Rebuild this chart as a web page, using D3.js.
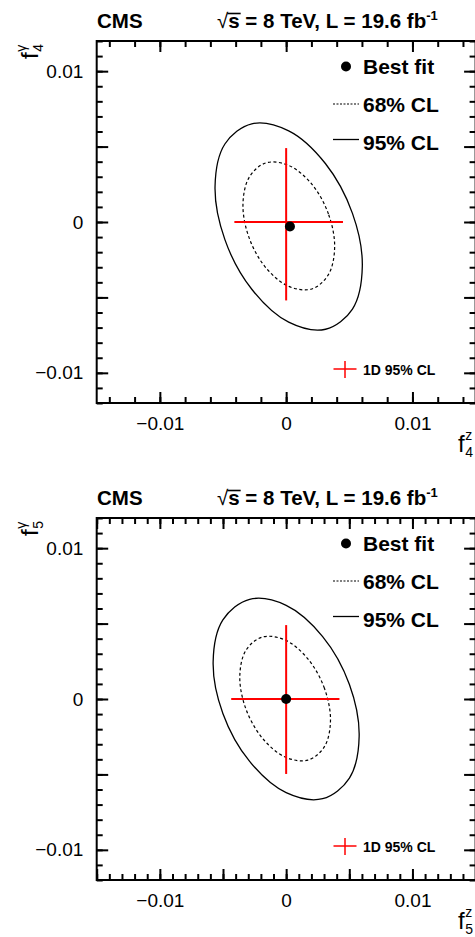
<!DOCTYPE html>
<meta charset="utf-8">
<style>
  body { margin: 0; background: #fff; }
  text { font-family: "Liberation Sans", Arial, sans-serif; fill: #000; }
</style>
<body>
<!-- Load d3.js -->
<script src="https://d3js.org/d3.v7.min.js"></script>
<div id="my_dataviz"></div>
<script>

// Contours (f^z, f^gamma pairs)
var f4Contour95 = [[0.00603,-0.00295],[0.00525,0.00057],[0.00312,0.00386],[0.0002,0.00604],[-0.00272,0.00651],[-0.00485,0.00517],
                   [-0.00563,0.00235],[-0.00485,-0.00117],[-0.00272,-0.00446],[0.0002,-0.00664],[0.00312,-0.00711],[0.00525,-0.00577]];
var f4Contour68 = [[0.00384,-0.00166],[0.00335,0.00053],[0.00203,0.00251],[0.00021,0.00375],[-0.00161,0.00392],[-0.00293,0.00296],
                   [-0.00342,0.00114],[-0.00293,-0.00105],[-0.00161,-0.00303],[0.00021,-0.00427],[0.00203,-0.00444],[0.00335,-0.00348]];
var f5Contour95 = [[0.00578,-0.00247],[0.00501,0.00096],[0.00289,0.00414],[0,0.00621],[-0.00289,0.00661],[-0.00501,0.00524],
                   [-0.00578,0.00247],[-0.00501,-0.00096],[-0.00289,-0.00414],[0,-0.00621],[0.00289,-0.00661],[0.00501,-0.00524]];
var f5Contour68 = [[0.00351,-0.00142],[0.00303,0.00071],[0.00172,0.00266],[-0.00008,0.00391],[-0.00188,0.00411],[-0.00319,0.00322],
                   [-0.00367,0.00148],[-0.00319,-0.00065],[-0.00188,-0.0026],[-0.00008,-0.00385],[0.00172,-0.00405],[0.00303,-0.00316]];

// Best fit points
var f4BestFit = [0.0003, -0.0003];
var f5BestFit = [0, 0];

// 1D 95% CL intervals
var f4CrossX = [-0.0041, 0.0045];
var f4CrossY = [-0.0052, 0.0049];
var f5CrossX = [-0.00435, 0.00422];
var f5CrossY = [-0.00497, 0.0049];

// Axis ticks and labels
var xDomain = [-0.015, 0.015];
var yDomain = [-0.012, 0.012];
var tickLabels = [-0.01, 0, 0.01];
var f4XMajor = [-0.01, 0, 0.01];
var f4XMinor = [-0.014, -0.012, -0.01, -0.008, -0.006, -0.004, -0.002, 0, 0.002, 0.004, 0.006, 0.008, 0.01, 0.012, 0.014];
var f5XMajor = [-0.015, -0.01, -0.005, 0, 0.005, 0.01, 0.015];
var yMajor = [-0.01, -0.005, 0, 0.005, 0.01];
var fineMinor = d3.range(-15, 16).map(function(i) { return i / 1000; });

var legendLabels = ["Best fit", "68% CL", "95% CL"];
var panelNames = ["4", "5"];

// Set the dimensions of the page
var width = 475, height = 937, panelShift = 477;

var svg = d3.select("#my_dataviz")
  .append("svg")
    .attr("width", width)
    .attr("height", height);

var x = d3.scaleLinear().domain(xDomain).range([96.7, 475.6]);
var y = d3.scaleLinear().domain(yDomain).range([403, 41]);

var contour = d3.line()
  .x(function(d) { return x(d[0]); })
  .y(function(d) { return y(d[1]); })
  .curve(d3.curveCatmullRomClosed.alpha(0.5));

function labelFmt(d) {
  for (var i = 0; i < tickLabels.length; i++) {
    if (Math.abs(d - tickLabels[i]) < 1e-9) return d === 0 ? "0" : d3.format(".2f")(d).replace(/0$/, "");
  }
  return "";
}

// one axis layer
function addAxis(g, axis, values, len, labels, transform) {
  var a = g.append("g")
    .attr("transform", transform || null)
    .call(axis.tickValues(values).tickSize(-len).tickPadding(13.4)
      .tickFormat(labels ? labelFmt : function() { return ""; }));
  a.select(".domain").remove();
  a.selectAll("line").attr("stroke", "#000").attr("stroke-width", 2);
  a.selectAll("text").attr("font-size", 19).attr("font-family", null).attr("fill", "#000");
  a.attr("font-family", null);
}

// "f" with stacked super- and subscript, right aligned at the origin
function fSymbol(g, sup, sub) {
  var inner = g.append("g");
  var f = inner.append("text").attr("font-size", 24).text("f");
  var fw = f.node().getComputedTextLength();
  var s1 = inner.append("text").attr("x", fw + 0.5).attr("y", -12).attr("font-size", 14).text(sup);
  var s2 = inner.append("text").attr("x", fw + 0.5).attr("y", 5).attr("font-size", 14).text(sub);
  var w = fw + 0.5 + Math.max(s1.node().getComputedTextLength(), s2.node().getComputedTextLength());
  inner.attr("transform", "translate(" + (-w) + ",0)");
}

function drawPanel(k, c95, c68, best, crossX, crossY, xMajor, xMinor) {
  var g = svg.append("g").attr("transform", "translate(0," + (k * panelShift) + ")");

  // header
  g.append("text").attr("x", 97).attr("y", 28).attr("font-size", 20.5).attr("font-weight", "bold").text("CMS");
  var hdr = g.append("text").attr("x", 217).attr("y", 28).attr("font-size", 20.5).attr("font-weight", "bold");
  hdr.append("tspan").attr("font-weight", "normal").text("\u221A");
  hdr.append("tspan").text("s = 8 TeV, L = 19.6 fb");
  hdr.append("tspan").attr("dy", -8).attr("font-size", 13).text("-1");
  var n = hdr.node();
  var s0 = n.getStartPositionOfChar(1).x, s1 = n.getEndPositionOfChar(1).x;
  g.append("line").attr("x1", s0 - 1).attr("x2", s1 + 1).attr("y1", 13.5).attr("y2", 13.5)
    .attr("stroke", "#000").attr("stroke-width", 1.6);

  // axes: minor then major ticks on all four sides
  var yMinor = fineMinor.filter(function(v) { return v >= yDomain[0] && v <= yDomain[1]; });
  addAxis(g, d3.axisBottom(x), xMinor, 6, false, "translate(0," + y.range()[0] + ")");
  addAxis(g, d3.axisBottom(x), xMajor, 11, true, "translate(0," + y.range()[0] + ")");
  addAxis(g, d3.axisTop(x), xMinor, 6, false, "translate(0," + y.range()[1] + ")");
  addAxis(g, d3.axisTop(x), xMajor, 11, false, "translate(0," + y.range()[1] + ")");
  addAxis(g, d3.axisLeft(y), yMinor, 6, false, "translate(" + x.range()[0] + ",0)");
  addAxis(g, d3.axisLeft(y), yMajor, 11.5, true, "translate(" + x.range()[0] + ",0)");
  addAxis(g, d3.axisRight(y), yMinor, 6, false, "translate(" + x.range()[1] + ",0)");
  addAxis(g, d3.axisRight(y), yMajor, 11.5, false, "translate(" + x.range()[1] + ",0)");

  g.append("rect")
    .attr("x", x.range()[0]).attr("y", y.range()[1])
    .attr("width", x.range()[1] - x.range()[0]).attr("height", y.range()[0] - y.range()[1])
    .attr("fill", "none").attr("stroke", "#000").attr("stroke-width", 2);

  // axis titles
  fSymbol(g.append("g").attr("transform", "translate(38,44) rotate(-90)"), "\u03B3", panelNames[k]);
  fSymbol(g.append("g").attr("transform", "translate(473,452)"), "z", panelNames[k]);

  // contours
  g.append("path").datum(c95).attr("fill", "none").attr("stroke", "#000").attr("stroke-width", 1.3).attr("d", contour);
  g.append("path").datum(c68).attr("fill", "none").attr("stroke", "#000").attr("stroke-width", 1.2)
    .attr("stroke-dasharray", "3,2.5").attr("d", contour);

  // 1D intervals
  g.append("line").attr("x1", x(crossX[0])).attr("x2", x(crossX[1])).attr("y1", y(0)).attr("y2", y(0))
    .attr("stroke", "#ff0000").attr("stroke-width", 2);
  g.append("line").attr("x1", x(0)).attr("x2", x(0)).attr("y1", y(crossY[0])).attr("y2", y(crossY[1]))
    .attr("stroke", "#ff0000").attr("stroke-width", 2);

  // best fit
  g.append("circle").attr("cx", x(best[0])).attr("cy", y(best[1])).attr("r", 5).attr("fill", "#000");

  // legend
  g.append("circle").attr("cx", 346).attr("cy", 66.5).attr("r", 5).attr("fill", "#000");
  g.append("line").attr("x1", 333).attr("x2", 359).attr("y1", 104).attr("y2", 104)
    .attr("stroke", "#000").attr("stroke-width", 1.2).attr("stroke-dasharray", "2,1.5");
  g.append("line").attr("x1", 333).attr("x2", 359).attr("y1", 139.5).attr("y2", 139.5)
    .attr("stroke", "#000").attr("stroke-width", 1.3);
  g.selectAll(".leg").data(legendLabels).enter().append("text")
    .attr("x", 363).attr("y", function(d, i) { return 74 + i * 38; })
    .attr("font-size", 21).attr("font-weight", "bold").text(function(d) { return d; });

  g.append("line").attr("x1", 333.5).attr("x2", 356.5).attr("y1", 369).attr("y2", 369).attr("stroke", "#ff0000").attr("stroke-width", 1.5);
  g.append("line").attr("x1", 345).attr("x2", 345).attr("y1", 361).attr("y2", 378).attr("stroke", "#ff0000").attr("stroke-width", 1.5);
  g.append("text").attr("x", 363).attr("y", 374.5).attr("font-size", 14).attr("font-weight", "bold").text("1D 95% CL");
}

drawPanel(0, f4Contour95, f4Contour68, f4BestFit, f4CrossX, f4CrossY, f4XMajor, f4XMinor);
drawPanel(1, f5Contour95, f5Contour68, f5BestFit, f5CrossX, f5CrossY, f5XMajor, fineMinor);

</script>
</body>
